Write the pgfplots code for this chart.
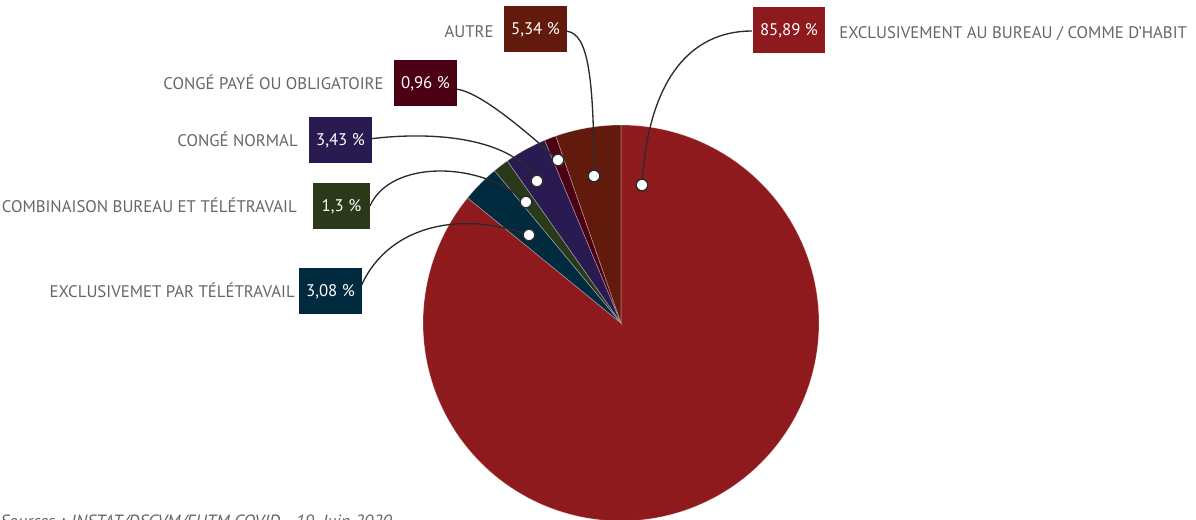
\documentclass[border=0pt]{standalone}
\usepackage{fontspec}
\setmainfont{PT Sans}
\usepackage{pgfplots}
\usepackage{pgfplotstable}
\pgfplotsset{compat=1.18}

\definecolor{cbureau}{HTML}{8F1A1E}
\definecolor{ctele}{HTML}{002A3E}
\definecolor{ccomb}{HTML}{29391A}
\definecolor{cnormal}{HTML}{291B52}
\definecolor{cpaye}{HTML}{4B0013}
\definecolor{cautre}{HTML}{621A0C}
\definecolor{labgray}{HTML}{666666}
\definecolor{linkgray}{HTML}{2B2B2B}

% shares in %, clockwise from 12 o'clock
\pgfplotstableread{
value
85.89
3.08
1.30
3.43
0.96
5.34
}\piedata

% dots on the slices (pixel coords, y downwards)
\pgfplotstableread{
x y
642 185
529 235
526 202
537 181
558 160
594 176
}\dotdata

\newcommand\cx{621}
\newcommand\cy{323}
\newcommand\rr{198}

\newcommand\pieslice[2]{%
  \addplot[fill=#2, draw=white, draw opacity=0.35, line width=0.5pt,
    domain=\csname we#1\endcsname:\csname ws#1\endcsname, samples=150, variable=\t]
    ({\cx+\rr*cos(\t)},{\cy-\rr*sin(\t)}) -- (\cx,\cy) -- cycle;}

\tikzset{
  pct/.style={fill=#1, text=white, minimum width=42.75pt, minimum height=34.5pt,
    inner xsep=5.6pt, font=\fontsize{12.6}{14}\selectfont, text height=8.8pt, text depth=0pt},
  lab/.style={text=labgray, inner sep=0pt, font=\fontsize{12.6}{14}\selectfont,
    text height=8.8pt, text depth=0pt},
  link/.style={draw=linkgray, line width=1pt}
}

\begin{document}
\begin{tikzpicture}
\gdef\cum{0}
\pgfplotstableforeachcolumnelement{value}\of\piedata\as\v{%
  \pgfmathsetmacro\a{90-3.6*\cum}%
  \pgfmathsetmacro\b{90-3.6*(\cum+\v)}%
  \expandafter\xdef\csname ws\pgfplotstablerow\endcsname{\a}%
  \expandafter\xdef\csname we\pgfplotstablerow\endcsname{\b}%
  \pgfmathsetmacro\cumn{\cum+\v}\xdef\cum{\cumn}%
}
\begin{axis}[
  scale only axis, width=897pt, height=390pt,
  xmin=0, xmax=1196, ymin=0, ymax=520, y dir=reverse,
  hide axis, clip=false,
]
\pieslice{0}{cbureau}
\pieslice{1}{ctele}
\pieslice{2}{ccomb}
\pieslice{3}{cnormal}
\pieslice{4}{cpaye}
\pieslice{5}{cautre}

% connectors
\draw[link] (752,31) .. controls (690,31) and (648,80) .. (642,185);
\draw[link] (564,31) .. controls (585,31) and (594,60) .. (594,176);
\draw[link] (454,89) .. controls (478,89) and (530,135) .. (558,160);
\draw[link] (369,139) .. controls (440,130) and (515,140) .. (537,181);
\draw[link] (370,206) .. controls (390,160) and (480,160) .. (526,202);
\draw[link] (359,291) .. controls (385,225) and (460,210) .. (529,235);

\addplot[only marks, mark=*, mark size=4.4pt,
  mark options={fill=white, draw=linkgray, line width=1.1pt}] table[x=x, y=y] {\dotdata};

% value boxes
\node[pct=cbureau] (b0) at (789,30) {85,89 \%};
\node[pct=cautre]  (b5) at (535.5,29) {5,34 \%};
\node[pct=cpaye]   (b4) at (425.5,83) {0,96 \%};
\node[pct=cnormal] (b3) at (340.5,140) {3,43 \%};
\node[pct=ccomb]   (b2) at (341.5,206) {1,3 \%};
\node[pct=ctele]   (b1) at (330.5,291) {3,08 \%};

% category labels
\node[lab, anchor=west] at (839,33) {EXCLUSIVEMENT AU BUREAU / COMME D'HABIT};
\node[lab, anchor=east] at (494,32) {AUTRE};
\node[lab, anchor=east] at (384,84) {CONGÉ PAYÉ OU OBLIGATOIRE};
\node[lab, anchor=east] at (298,141) {CONGÉ NORMAL};
\node[lab, anchor=east] at (297,207) {COMBINAISON BUREAU ET TÉLÉTRAVAIL};
\node[lab, anchor=east] at (295,292) {EXCLUSIVEMET PAR TÉLÉTRAVAIL};

% source line, cut by the lower edge as in the original
\node[anchor=north west, inner sep=0pt, text=labgray, font=\itshape\fontsize{13.3}{15}\selectfont]
  at (0,515) {Sources : INSTAT/DSCVM/EHTM COVID - 19, Juin 2020};

\coordinate (bbA) at (rel axis cs:0,0);
\coordinate (bbB) at (rel axis cs:1,1);
\end{axis}
\pgfresetboundingbox
\useasboundingbox (bbA) rectangle (bbB);
\end{tikzpicture}
\end{document}
